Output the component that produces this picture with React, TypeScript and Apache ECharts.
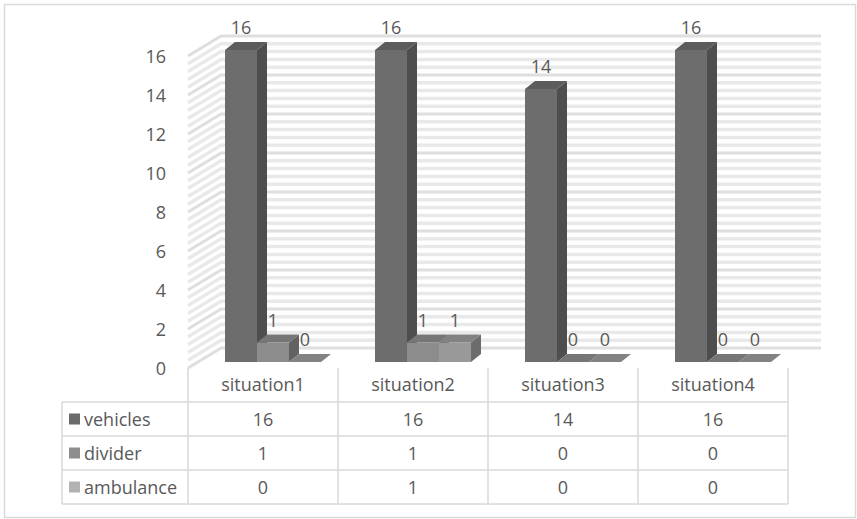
import React, { useEffect, useRef } from 'react';
import * as echarts from 'echarts';

// Chart data
const categories = ['situation1', 'situation2', 'situation3', 'situation4'];
const seriesNames = ['vehicles', 'divider', 'ambulance'];
const vehicles = [16, 16, 14, 16];
const divider = [1, 1, 0, 0];
const ambulance = [0, 1, 0, 0];
const yMax = 16;
const yInterval = 2;

// Layout
const W = 857;
const H = 519;
const GRID_LEFT = 188;
const GRID_RIGHT = 69;
const GRID_TOP = 56;
const GRID_BOTTOM = 151;
const ROW_H = 34;
const TABLE_LEFT = 62;
const FONT = '"Open Sans", Lato, sans-serif';
const FONT_SIZE = 18;
const TEXT = '#595959';
const LINE = '#d9d9d9';

// Oblique depth offsets for the 3D look
const WALL_DX = 33;
const WALL_DY = -20;
const BAR_FX = 10;
const BAR_FY = -6;
const BAR_DX = 10;
const BAR_DY = -8;
const BAR_W = 32;
const STRIPE_STEP = 0.4;

const palette = [
  { front: '#6d6d6d', side: '#4e4e4e', top: '#5c5c5c', key: '#6b6b6b' },
  { front: '#8c8c8c', side: '#626262', top: '#767676', key: '#8e8e8e' },
  { front: '#999999', side: '#6c6c6c', top: '#828282', key: '#b2b2b2' },
];

const seriesData = [vehicles, divider, ambulance];

function wallRender(params: any, api: any) {
  const bw = api.size([1, 0])[0];
  const x0 = api.coord([0, 0])[0] - bw / 2;
  const x1 = x0 + bw * categories.length;
  const children: any[] = [];
  const steps = Math.round(yMax / STRIPE_STEP);
  for (let k = 0; k <= steps; k++) {
    const y = api.coord([0, k * STRIPE_STEP])[1];
    children.push({
      type: 'polyline',
      shape: { points: [[x0, y], [x0 + WALL_DX, y + WALL_DY], [x1 + WALL_DX, y + WALL_DY]] },
      style: { stroke: '#e9e9e9', lineWidth: 3.5, fill: null },
    });
  }
  for (let v = 0; v <= yMax; v += yInterval) {
    const y = api.coord([0, v])[1];
    children.push({
      type: 'polyline',
      shape: { points: [[x0, y], [x0 + WALL_DX, y + WALL_DY], [x1 + WALL_DX, y + WALL_DY]] },
      style: { stroke: '#d6d6d6', lineWidth: 1.2, fill: null },
    });
  }
  return { type: 'group', children };
}

function textStyle(text: string, align: string) {
  return {
    text,
    fill: TEXT,
    fontSize: FONT_SIZE,
    fontFamily: FONT,
    align,
    verticalAlign: 'middle',
    textAlign: align,
    textVerticalAlign: 'middle',
  };
}

function makeBarRender(si: number) {
  const c = palette[si];
  return (params: any, api: any) => {
    const idx = api.value(0);
    const val = api.value(1);
    const [cx, base] = api.coord([idx, 0]);
    const top = api.coord([idx, val])[1];
    const left = cx - 1.5 * BAR_W + si * BAR_W + BAR_FX;
    const b = base + BAR_FY;
    const t = top + BAR_FY;
    const r = left + BAR_W;
    const children: any[] = [
      {
        type: 'polygon',
        shape: { points: [[r, b], [r + BAR_DX, b + BAR_DY], [r + BAR_DX, t + BAR_DY], [r, t]] },
        style: { fill: c.side },
      },
      {
        type: 'polygon',
        shape: { points: [[left, b], [r, b], [r, t], [left, t]] },
        style: { fill: c.front },
      },
      {
        type: 'polygon',
        shape: { points: [[left, t], [left + BAR_DX, t + BAR_DY], [r + BAR_DX, t + BAR_DY], [r, t]] },
        style: { fill: c.top },
      },
      {
        type: 'text',
        x: left + BAR_W / 2,
        y: t + BAR_DY - 15,
        style: textStyle(String(val), 'center'),
      },
      // value cell in the data table below the axis
      {
        type: 'text',
        x: cx,
        y: base + ROW_H + ROW_H / 2 + si * ROW_H,
        style: textStyle(String(val), 'center'),
      },
    ];
    return { type: 'group', children };
  };
}

function tableGraphics() {
  const els: any[] = [];
  const axisY = H - GRID_BOTTOM;
  const right = W - GRID_RIGHT;
  const band = (right - GRID_LEFT) / categories.length;
  const rowTop = axisY + ROW_H;
  const rowBottom = rowTop + ROW_H * seriesNames.length;
  for (let r = 0; r <= seriesNames.length; r++) {
    const y = rowTop + r * ROW_H;
    els.push({ type: 'line', shape: { x1: TABLE_LEFT, y1: y, x2: right, y2: y }, style: { stroke: LINE, lineWidth: 1.5 } });
  }
  els.push({ type: 'line', shape: { x1: TABLE_LEFT, y1: rowTop, x2: TABLE_LEFT, y2: rowBottom }, style: { stroke: LINE, lineWidth: 1.5 } });
  for (let i = 0; i <= categories.length; i++) {
    const x = GRID_LEFT + i * band;
    els.push({ type: 'line', shape: { x1: x, y1: rowTop, x2: x, y2: rowBottom }, style: { stroke: LINE, lineWidth: 1.5 } });
  }
  seriesNames.forEach((name, r) => {
    const cy = rowTop + r * ROW_H + ROW_H / 2;
    els.push({ type: 'rect', shape: { x: 69, y: cy - 5.5, width: 11, height: 11 }, style: { fill: palette[r].key } });
    els.push({ type: 'text', x: 84, y: cy, style: textStyle(name, 'left') });
  });
  els.push({
    type: 'rect',
    shape: { x: 4.5, y: 4.5, width: W - 6, height: H - 6 },
    style: { fill: null, stroke: LINE, lineWidth: 1.5 },
  });
  return els;
}

export default function App() {
  const ref = useRef<HTMLDivElement>(null);
  useEffect(() => {
    const chart = echarts.init(ref.current!, null, { renderer: 'svg' });
    chart.setOption({
      animation: false,
      backgroundColor: '#ffffff',
      grid: { left: GRID_LEFT, right: GRID_RIGHT, top: GRID_TOP, bottom: GRID_BOTTOM },
      xAxis: {
        type: 'category',
        data: categories,
        axisLine: { show: false },
        axisTick: { show: true, length: ROW_H, alignWithLabel: false, lineStyle: { color: LINE, width: 1.5 } },
        axisLabel: { color: TEXT, fontSize: FONT_SIZE, fontFamily: FONT, margin: 7 },
        splitLine: { show: false },
      },
      yAxis: {
        type: 'value',
        min: 0,
        max: yMax,
        interval: yInterval,
        axisLine: { show: false },
        axisTick: { show: false },
        splitLine: { show: false },
        axisLabel: { color: TEXT, fontSize: FONT_SIZE, fontFamily: FONT, margin: 22 },
      },
      graphic: tableGraphics(),
      series: [
        {
          type: 'custom',
          name: 'wall',
          silent: true,
          z: 1,
          renderItem: wallRender,
          data: [[0, 0]],
          encode: { x: 0, y: 1 },
          clip: false,
        },
        ...seriesNames.map((name, si) => ({
          type: 'custom',
          name,
          z: 2 + si,
          renderItem: makeBarRender(si),
          data: seriesData[si].map((v, i) => [i, v]),
          encode: { x: 0, y: 1 },
          clip: false,
        })),
      ],
    });
    return () => chart.dispose();
  }, []);
  return (
    <div
      ref={ref}
      style={{ position: 'fixed', left: 0, top: 0, width: W, height: H, background: '#fff' }}
    />
  );
}
